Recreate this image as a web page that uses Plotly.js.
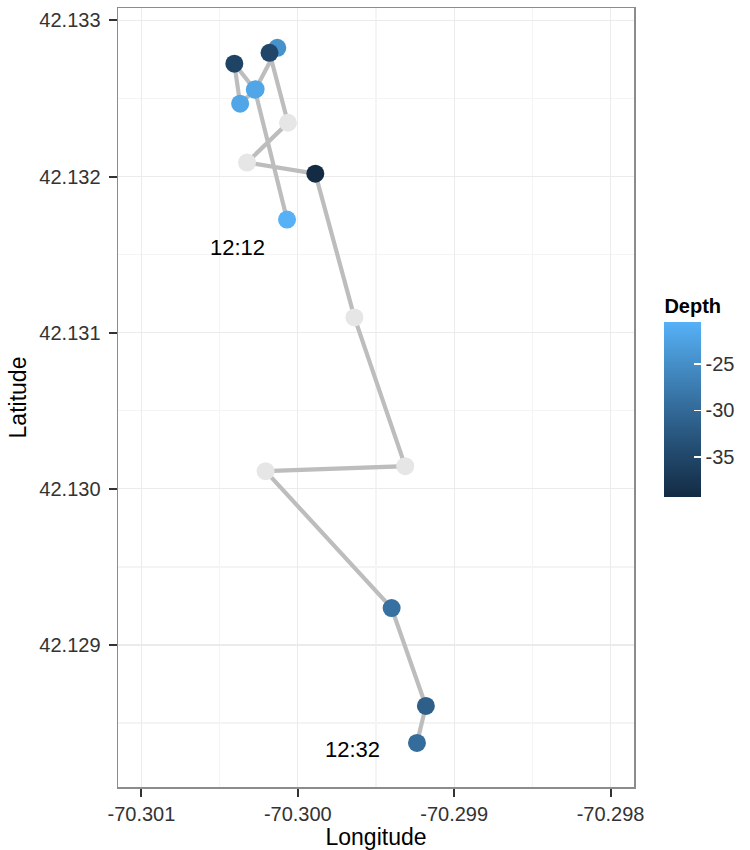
<!DOCTYPE html>
<html>
<head>
<meta charset="utf-8">
<script src="https://cdn.plot.ly/plotly-3.0.1.min.js"></script>
<style>
  html, body { margin: 0; padding: 0; background: #ffffff; }
  #chart { width: 750px; height: 850px; }
</style>
</head>
<body>
<div id="chart"></div>
<script>
// Track of a dive, in recorded order (12:12 to 12:32)
const lon = [
  -70.300069, -70.300275, -70.300406, -70.300369, -70.300270,
  -70.300131, -70.300181, -70.300063, -70.300325, -70.299888,
  -70.299638, -70.299313, -70.300206, -70.299400, -70.299181,
  -70.299238
];
const lat = [
  42.131725, 42.132557, 42.132723, 42.132467, 42.132560,
  42.132825, 42.132793, 42.132345, 42.132090, 42.132019,
  42.131098, 42.130145, 42.130113, 42.129236, 42.128609,
  42.128372
];
// Depth in metres; null where no reading was logged
const depth = [
  -20.5, -22.0, -35.5, -22.0, -22.0,
  -24.5, -35.0, null, null, -39.3,
  null, null, null, -29.0, -31.5,
  -29.5
];
// Time stamps for the first and last fix
const startTime = "12:12";
const endTime = "12:32";
// Colour bar ticks
const depthTicks = [-35, -30, -25];
const depthTickText = ["-35", "-30", "-25"];

const FONT = "Liberation Sans, Arial, Helvetica, sans-serif";

const hasDepth = depth.map(d => d !== null);
const pick = (arr, keep) => arr.filter((_, i) => hasDepth[i] === keep);

const pathTrace = {
  type: "scatter", mode: "lines",
  x: lon, y: lat,
  line: { color: "#bdbdbd", width: 4.2 },
  hoverinfo: "skip", showlegend: false
};

const naTrace = {
  type: "scatter", mode: "markers",
  x: pick(lon, false), y: pick(lat, false),
  marker: { color: "#e6e6e6", size: 18, line: { width: 0 } },
  showlegend: false
};

const depthTrace = {
  type: "scatter", mode: "markers",
  x: pick(lon, true), y: pick(lat, true),
  marker: {
    color: pick(depth, true),
    size: 18,
    line: { width: 0 },
    colorscale: [
      [0.00, "#132B43"],
      [0.25, "#22496D"],
      [0.50, "#336A98"],
      [0.75, "#448DC6"],
      [1.00, "#56B1F7"]
    ],
    showscale: true,
    colorbar: {
      title: { text: "<b>Depth</b>", side: "top", font: { family: FONT, size: 20, color: "#000000" } },
      x: 1.0589, xanchor: "left",
      y: 0.3723, yanchor: "bottom",
      len: 202, lenmode: "pixels",
      thickness: 37, thicknessmode: "pixels",
      xpad: 0, ypad: 0,
      outlinewidth: 0,
      tickvals: depthTicks,
      ticktext: depthTickText,
      ticks: "inside", ticklen: 7, tickwidth: 1.5, tickcolor: "#ffffff",
      tickfont: { family: FONT, size: 20, color: "#333333" }
    }
  },
  showlegend: false
};

const axisCommon = {
  showline: true, mirror: true, linecolor: "#8c8c8c", linewidth: 1.5,
  showgrid: true, gridcolor: "#ebebeb", gridwidth: 1.3,
  zeroline: false,
  ticks: "outside", ticklen: 8, tickwidth: 2, tickcolor: "#333333",
  tickfont: { family: FONT, size: 20, color: "#333333" }
};

const layout = {
  width: 750, height: 850,
  margin: { l: 118, r: 106, t: 8, b: 63 },
  paper_bgcolor: "#ffffff", plot_bgcolor: "#ffffff",
  font: { family: FONT },
  xaxis: Object.assign({}, axisCommon, {
    range: [-70.30115, -70.29785],
    tickvals: [-70.301, -70.300, -70.299, -70.298],
    ticktext: ["-70.301", "-70.300", "-70.299", "-70.298"],
    minor: { showgrid: true, dtick: 0.0005, tick0: -70.3015, gridcolor: "#f4f4f4", gridwidth: 1.3 },
    title: { text: "Longitude", font: { family: FONT, size: 23, color: "#000000" }, standoff: 4 }
  }),
  yaxis: Object.assign({}, axisCommon, {
    range: [42.12809, 42.13308],
    tickvals: [42.129, 42.130, 42.131, 42.132, 42.133],
    ticktext: ["42.129", "42.130", "42.131", "42.132", "42.133"],
    ticklabelstandoff: 4,
    minor: { showgrid: true, dtick: 0.0005, tick0: 42.1285, gridcolor: "#f4f4f4", gridwidth: 1.3 },
    title: { text: "Latitude", font: { family: FONT, size: 23, color: "#000000" }, standoff: 6 }
  }),
  annotations: [
    { x: lon[0], y: lat[0], text: startTime, showarrow: false,
      xshift: -50, yshift: -28, font: { family: FONT, size: 22, color: "#000000" } },
    { x: lon[lon.length - 1], y: lat[lat.length - 1], text: endTime, showarrow: false,
      xshift: -64, yshift: -7, font: { family: FONT, size: 22, color: "#000000" } }
  ]
};

Plotly.newPlot("chart", [pathTrace, naTrace, depthTrace], layout, { displayModeBar: false, staticPlot: true });
</script>
</body>
</html>
